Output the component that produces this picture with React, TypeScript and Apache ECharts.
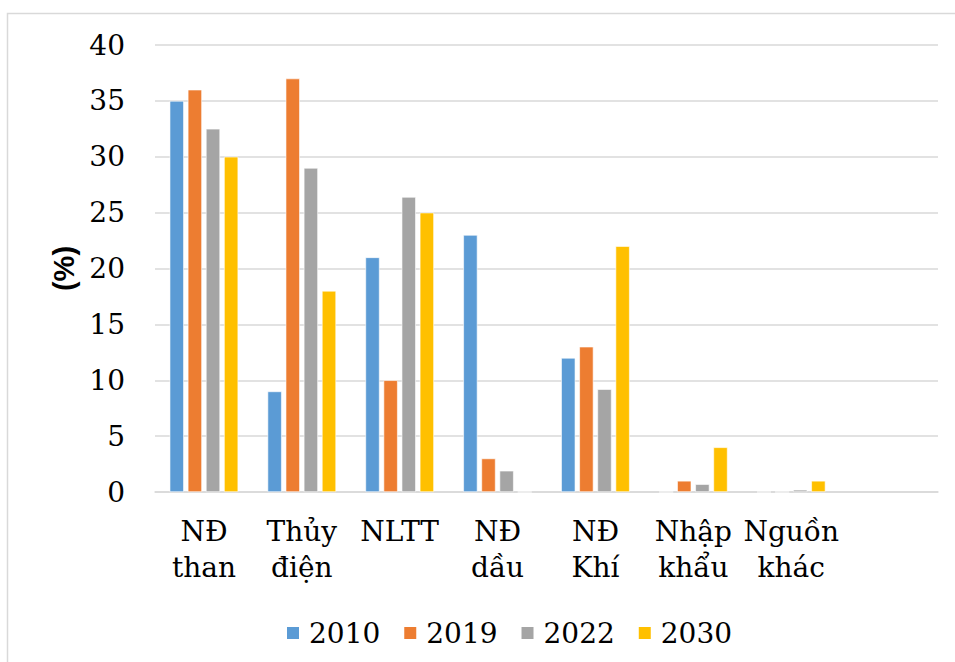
import React, { useEffect, useRef } from "react";
import * as echarts from "echarts";

const categories = ["NĐ\nthan", "Thủy\nđiện", "NLTT", "NĐ\ndầu", "NĐ\nKhí", "Nhập\nkhẩu", "Nguồn\nkhác", ""];
const seriesNames = ["2010", "2019", "2022", "2030"];
const s2010 = [35, 9, 21, 23, 12, 0, 0, null];
const s2019 = [36, 37, 10, 3, 13, 1, 0, null];
const s2022 = [32.5, 29, 26.4, 1.9, 9.2, 0.7, 0.2, null];
const s2030 = [30, 18, 25, 0, 22, 4, 1, null];
const colors = ["#5B9BD5", "#ED7D31", "#A5A5A5", "#FFC000"];

const SERIF = "DejaVu Serif";

export default function App() {
  const ref = useRef<HTMLDivElement>(null);
  useEffect(() => {
    if (!ref.current) return;
    const chart = echarts.init(ref.current, null, { renderer: "svg" });
    const data = [s2010, s2019, s2022, s2030];
    chart.setOption({
      animation: false,
      backgroundColor: "#fff",
      color: colors,
      graphic: [
        {
          type: "polyline",
          shape: { points: [[7.5, 670], [7.5, 13.5], [970, 13.5]] },
          style: { fill: "none", stroke: "#D9D9D9", lineWidth: 1.5 },
          silent: true,
        },
      ],
      grid: { left: 155, right: 17, top: 45, bottom: 170 },
      legend: {
        top: 614,
        left: 280,
        itemWidth: 14,
        itemHeight: 14,
        itemGap: 22,
        icon: "rect",
        textStyle: { fontFamily: SERIF, fontSize: 28, color: "#000", padding: [0, 0, 0, 4] },
        data: seriesNames,
      },
      xAxis: {
        type: "category",
        data: categories,
        axisLine: { show: true, lineStyle: { color: "#D9D9D9", width: 1.5 } },
        axisTick: { show: false },
        axisLabel: {
          interval: 0,
          margin: 21,
          fontFamily: SERIF,
          fontSize: 28,
          lineHeight: 36,
          color: "#000",
        },
      },
      yAxis: {
        type: "value",
        min: 0,
        max: 40,
        interval: 5,
        name: "(%)",
        nameLocation: "middle",
        nameGap: 74,
        nameRotate: 90,
        nameTextStyle: { fontFamily: "Liberation Sans", fontWeight: "bold", fontSize: 29, color: "#000" },
        axisLine: { show: false },
        axisTick: { show: false },
        splitLine: { lineStyle: { color: "#D9D9D9", width: 1.5 } },
        axisLabel: { margin: 30, fontFamily: SERIF, fontSize: 28, color: "#000" },
      },
      series: seriesNames.map((n, i) => ({
        name: n,
        type: "bar",
        data: data[i],
        barGap: "28%",
        barCategoryGap: "30%",
        itemStyle: { color: colors[i], borderColor: "#fff", borderWidth: 0.6 },
      })),
    });
    return () => chart.dispose();
  }, []);
  return <div ref={ref} style={{ position: "fixed", left: 0, top: 0, width: 955, height: 662 }} />;
}
